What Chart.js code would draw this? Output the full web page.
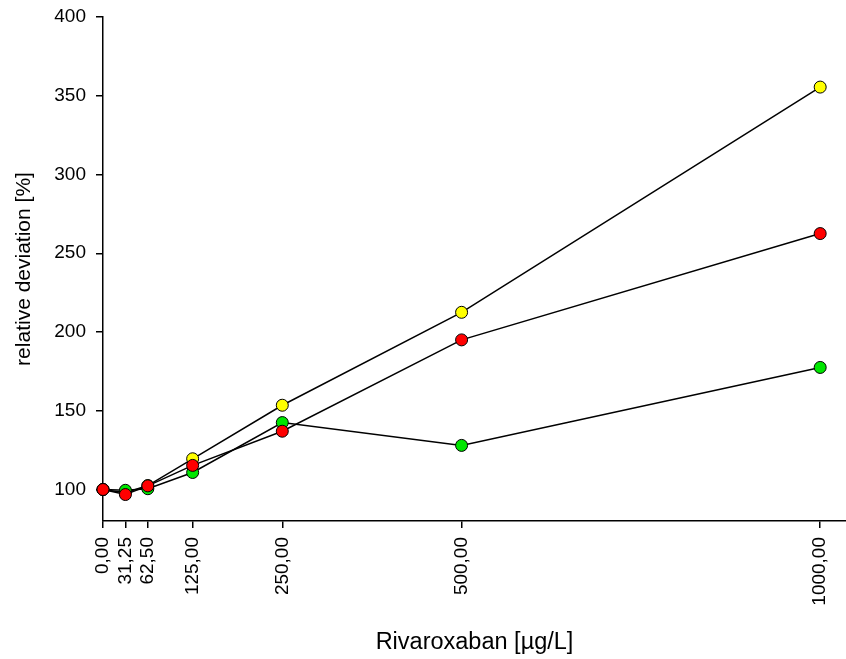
<!DOCTYPE html>
<html>
<head>
<meta charset="utf-8">
<script src="https://cdn.jsdelivr.net/npm/chart.js@4/dist/chart.umd.min.js"></script>
<style>
  body { margin: 0; background: #fff; }
</style>
</head>
<body>
<canvas id="myChart" width="846" height="659"></canvas>
<script>
// concentrations on x axis
const concentrations = [0, 31.25, 62.5, 125, 250, 500, 1000];
const xTickValues = [0, 31.25, 62.5, 125, 250, 500, 1000];
const yTickValues = [100, 150, 200, 250, 300, 350, 400];

const yellowSeries = [100, 98, 102.5, 119.5, 153.5, 212.5, 355.5];
const greenSeries = [100, 99.5, 100.5, 110.8, 142.5, 128, 177.5];
const redSeries = [100, 96.8, 102.3, 115.3, 137, 195, 262.5];

const toPoints = (vals) => vals.map((v, i) => ({ x: concentrations[i], y: v }));

const family = 'Liberation Sans, Arial, sans-serif';
const tickFont = { family: family, size: 19 };

const makeDataset = (label, vals, color) => ({
  label: label,
  data: toPoints(vals),
  borderColor: '#000',
  borderWidth: 1.5,
  backgroundColor: color,
  pointBackgroundColor: color,
  pointBorderColor: '#000',
  pointBorderWidth: 1,
  pointRadius: 6,
  pointHoverRadius: 6,
  fill: false,
  tension: 0,
  clip: false
});

const ctx = document.getElementById('myChart');
new Chart(ctx, {
  type: 'line',
  data: {
    // first dataset ends up drawn on top
    datasets: [
      makeDataset('red', redSeries, '#ff0000'),
      makeDataset('green', greenSeries, '#00e600'),
      makeDataset('yellow', yellowSeries, '#ffff00')
    ]
  },
  options: {
    responsive: false,
    animation: false,
    layout: { autoPadding: false, padding: { top: 17, right: 0, left: 0, bottom: 0 } },
    plugins: {
      legend: { display: false },
      tooltip: { enabled: false }
    },
    scales: {
      x: {
        type: 'linear',
        min: 0,
        max: 1036,
        afterBuildTicks: (scale) => {
          scale.ticks = xTickValues.map(v => ({ value: v }));
        },
        afterFit: (scale) => {
          scale.height = 138;
          scale.paddingLeft = 0;
          scale.paddingRight = 0;
        },
        grid: {
          drawOnChartArea: false,
          drawTicks: true,
          tickLength: 7,
          color: '#000',
          lineWidth: 1.5
        },
        border: { display: true, color: '#000', width: 1.5 },
        ticks: {
          autoSkip: false,
          minRotation: 90,
          maxRotation: 90,
          padding: 9,
          color: '#000',
          font: tickFont,
          callback: (v) => Number(v).toFixed(2).replace('.', ',')
        },
        title: {
          display: true,
          text: 'Rivaroxaban [µg/L]',
          color: '#000',
          font: { family: family, size: 23.5 },
          padding: { top: 0, bottom: 2 }
        }
      },
      y: {
        min: 80,
        max: 400,
        afterBuildTicks: (scale) => {
          scale.ticks = yTickValues.map(v => ({ value: v }));
        },
        afterFit: (scale) => {
          scale.width = 103;
          scale.paddingTop = 0;
          scale.paddingBottom = 0;
        },
        grid: {
          drawOnChartArea: false,
          drawTicks: true,
          tickLength: 7,
          color: '#000',
          lineWidth: 1.5
        },
        border: { display: true, color: '#000', width: 1.5 },
        ticks: {
          padding: 10,
          color: '#000',
          font: tickFont
        },
        title: {
          display: true,
          text: 'relative deviation [%]',
          color: '#000',
          font: { family: family, size: 21 },
          padding: { top: 12, bottom: 0 }
        }
      }
    }
  }
});
</script>
</body>
</html>
